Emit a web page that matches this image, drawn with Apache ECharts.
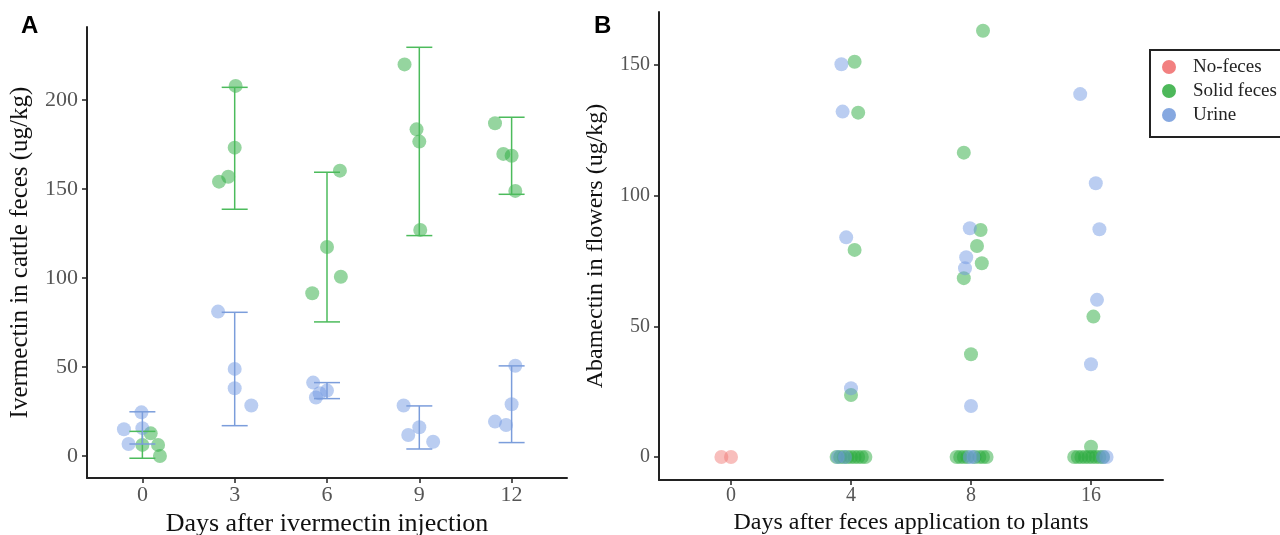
<!DOCTYPE html>
<html>
<head>
<meta charset="utf-8">
<script src="https://cdn.jsdelivr.net/npm/echarts@6/dist/echarts.min.js"></script>
<style>
  html, body { margin: 0; padding: 0; background: #fff; }
  #chart { width: 1280px; height: 535px; }
</style>
</head>
<body>
<div id="chart"></div>
<script>
// panel A: days after injection, points are [position index + jitter, value]
var daysA = ['0', '3', '6', '9', '12'];
var solidA = [
  [0.09, 12.7], [0.0, 6.2], [0.17, 6.2], [0.19, 0],
  [1.01, 207.9], [1.0, 173.2], [0.93, 156.9], [0.83, 154.1],
  [2.14, 160.3], [2.0, 117.4], [2.15, 100.7], [1.84, 91.4],
  [2.84, 220], [2.97, 183.5], [3.0, 176.6], [3.01, 127],
  [3.82, 186.9], [3.91, 169.7], [4.0, 168.7], [4.04, 148.9]
];
var urineA = [
  [-0.01, 24.5], [-0.2, 15], [0.0, 15.6], [-0.15, 6.7],
  [0.82, 81.1], [1.0, 48.9], [1.0, 38], [1.18, 28.3],
  [1.85, 41.2], [2.0, 36.7], [1.92, 35.2], [1.88, 32.8],
  [2.83, 28.3], [3.0, 16.1], [2.88, 11.8], [3.15, 8],
  [4.04, 50.7], [4.0, 29], [3.82, 19.3], [3.94, 17.4]
];
var solidLowA = [-1.3, 138.6, 75.3, 123.8, 147];
var solidHighA = [13.8, 207.1, 159.4, 229.6, 190.3];
var urineLowA = [6.7, 17, 32.2, 3.9, 7.5];
var urineHighA = [24.8, 80.7, 41.2, 28.1, 50.6];
var ticksA = [0, 50, 100, 150, 200];

// panel B: days after feces application
var daysB = ['0', '4', '8', '16'];
var noFecesB = [[-0.08, 0], [0.0, 0]];
var solidB = [
  [1.03, 151.2], [1.06, 131.7], [1.03, 79.2], [1.0, 23.7],
  [0.88, 0], [0.91, 0], [0.94, 0], [0.97, 0], [1.0, 0], [1.03, 0], [1.06, 0], [1.09, 0], [1.12, 0],
  [2.1, 163], [1.94, 116.4], [2.08, 86.8], [2.05, 80.7], [2.09, 74.1], [1.94, 68.4], [2.0, 39.3],
  [1.88, 0], [1.91, 0], [1.94, 0], [1.97, 0], [2.03, 0], [2.07, 0], [2.1, 0], [2.13, 0],
  [3.02, 53.7], [3.0, 3.9],
  [2.86, 0], [2.89, 0], [2.92, 0], [2.95, 0], [2.98, 0], [3.01, 0], [3.04, 0], [3.07, 0], [3.1, 0]
];
var urineB = [
  [0.92, 150.2], [0.93, 132.1], [0.96, 84.0], [1.0, 26.3],
  [0.89, 0], [0.95, 0],
  [1.99, 87.5], [1.96, 76.4], [1.95, 72.2], [2.0, 19.5],
  [1.99, 0], [2.02, 0],
  [2.91, 138.8], [3.04, 104.7], [3.07, 87.1], [3.05, 60.1], [3.0, 35.5],
  [3.1, 0], [3.13, 0]
];
var ticksB = [0, 50, 100, 150];

var serif = "'Liberation Serif', 'Times New Roman', serif";
var green = 'rgba(40,170,60,0.62)';
var blue = 'rgba(110,150,225,0.6)';
var red = 'rgba(240,120,115,0.6)';

function errData(low, high) {
  return low.map(function (v, i) { return [i, v, high[i]]; });
}

function errBars(xi, yi, data, color) {
  return {
    type: 'custom',
    xAxisIndex: xi,
    yAxisIndex: yi,
    silent: true,
    z: 3,
    encode: { x: 0, y: [1, 2] },
    data: data,
    renderItem: function (params, api) {
      var x = api.value(0);
      var lo = api.coord([x, api.value(1)]);
      var hi = api.coord([x, api.value(2)]);
      var half = 13;
      var st = { stroke: color, lineWidth: 1.5 };
      return {
        type: 'group',
        children: [
          { type: 'line', shape: { x1: lo[0], y1: lo[1], x2: hi[0], y2: hi[1] }, style: st },
          { type: 'line', shape: { x1: lo[0] - half, y1: lo[1], x2: lo[0] + half, y2: lo[1] }, style: st },
          { type: 'line', shape: { x1: hi[0] - half, y1: hi[1], x2: hi[0] + half, y2: hi[1] }, style: st }
        ]
      };
    }
  };
}

function xAxis(gi, labels, max, name, gap, fs, nfs) {
  var vals = labels.map(function (d, i) { return i; });
  return {
    type: 'value', gridIndex: gi, min: -0.6, max: max,
    name: name, nameLocation: 'middle', nameGap: gap,
    nameTextStyle: { fontFamily: serif, fontSize: nfs, color: '#111' },
    axisLine: { show: true, onZero: false, lineStyle: { color: '#222', width: 2 } },
    axisTick: { show: true, length: 5, customValues: vals, lineStyle: { color: '#222', width: 1.5 } },
    axisLabel: {
      customValues: vals, margin: 6, fontFamily: serif, fontSize: fs, color: '#555',
      formatter: function (v) { return labels[Math.round(v)]; }
    },
    splitLine: { show: false }
  };
}

function yAxis(gi, min, max, ticks, name, gap, fs, nfs) {
  return {
    type: 'value', gridIndex: gi, min: min, max: max,
    name: name, nameLocation: 'middle', nameGap: gap,
    nameTextStyle: { fontFamily: serif, fontSize: nfs, color: '#111' },
    axisLine: { show: true, onZero: false, lineStyle: { color: '#222', width: 2 } },
    axisTick: { show: true, length: 5, customValues: ticks, lineStyle: { color: '#222', width: 1.5 } },
    axisLabel: { customValues: ticks, margin: 9, fontFamily: serif, fontSize: fs, color: '#555' },
    splitLine: { show: false }
  };
}

function scatter(name, xi, data, color) {
  return {
    name: name, type: 'scatter', xAxisIndex: xi, yAxisIndex: xi,
    symbolSize: 14, z: 2,
    itemStyle: { color: color },
    emphasis: { disabled: true },
    data: data
  };
}

var chart = echarts.init(document.getElementById('chart'), null, { renderer: 'canvas' });
chart.setOption({
  animation: false,
  backgroundColor: '#fff',
  grid: [
    { left: 87, top: 27, width: 480, height: 451, containLabel: false, outerBoundsMode: 'none' },
    { left: 659, top: 12, width: 504, height: 468, containLabel: false, outerBoundsMode: 'none' }
  ],
  xAxis: [
    xAxis(0, daysA, 4.6, 'Days after ivermectin injection', 32, 22, 26),
    xAxis(1, daysB, 3.6, 'Days after feces application to plants', 31, 20, 24)
  ],
  yAxis: [
    yAxis(0, -12.4, 241, ticksA, 'Ivermectin in cattle feces (ug/kg)', 54, 22, 25),
    yAxis(1, -8.8, 170.2, ticksB, 'Abamectin in flowers (ug/kg)', 51, 20, 24)
  ],
  legend: {
    orient: 'vertical', left: 1150, top: 50,
    borderColor: '#222', borderWidth: 2, borderRadius: 0,
    padding: [7, 12, 12, 12],
    itemWidth: 14, itemHeight: 14, itemGap: 4,
    icon: 'circle',
    textStyle: { fontFamily: serif, fontSize: 19, lineHeight: 20, color: '#222', padding: [0, 0, 0, 12] },
    data: [
      { name: 'No-feces', itemStyle: { color: '#f28080', opacity: 1 } },
      { name: 'Solid feces', itemStyle: { color: '#4db85a', opacity: 1 } },
      { name: 'Urine', itemStyle: { color: '#86a8e0', opacity: 1 } }
    ]
  },
  graphic: [
    { type: 'text', left: 21, top: 14, style: { text: 'A', font: "bold 24px 'Liberation Sans', Arial, sans-serif", fill: '#000' } },
    { type: 'text', left: 594, top: 14, style: { text: 'B', font: "bold 24px 'Liberation Sans', Arial, sans-serif", fill: '#000' } }
  ],
  series: [
    scatter('Solid feces', 0, solidA, green),
    scatter('Urine', 0, urineA, blue),
    errBars(0, 0, errData(solidLowA, solidHighA), '#4cbb5c'),
    errBars(0, 0, errData(urineLowA, urineHighA), '#7b9ddb'),
    scatter('No-feces', 1, noFecesB, red),
    scatter('Solid feces', 1, solidB, green),
    scatter('Urine', 1, urineB, blue)
  ]
});
</script>
</body>
</html>
